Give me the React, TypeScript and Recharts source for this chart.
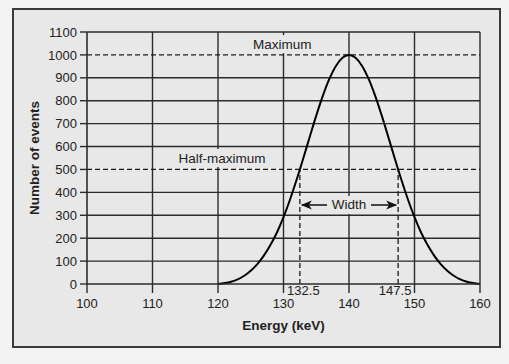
import React from 'react';
import { LineChart, Line, XAxis, YAxis, CartesianGrid, ReferenceLine, ReferenceDot, Label } from 'recharts';

const energy = [120, 121, 122, 123, 124, 125, 126, 127, 128, 129, 130, 131, 132, 133, 134, 135, 136, 137, 138, 139, 140,
  141, 142, 143, 144, 145, 146, 147, 148, 149, 150, 151, 152, 153, 154, 155, 156, 157, 158, 159, 160];
const events = [0, 4, 10, 20, 36, 58, 87, 124, 170, 225, 292, 369, 455, 547, 642, 735, 821, 895, 952, 988, 1000,
  988, 952, 895, 821, 735, 642, 547, 455, 369, 292, 225, 170, 124, 87, 58, 36, 20, 10, 4, 0];

const xTicks = [100, 110, 120, 130, 140, 150, 160];
const yTicks = [0, 100, 200, 300, 400, 500, 600, 700, 800, 900, 1000, 1100];
const gridY = [100, 200, 300, 400, 600, 700, 800, 900, 1100];
const gridX = [110, 120, 130, 140, 150, 160];

const maximum = 1000;
const halfMax = 500;
const fwhmLow = 132.5;
const fwhmHigh = 147.5;
const arrowLevel = 345;
const notes = [
  { x: 129.8, y: 1047, text: 'Maximum', w: 62 },
  { x: 120.6, y: 550, text: 'Half-maximum', w: 92 },
];

const data = energy.map((e, i) => ({ energy: e, events: events[i] }));

const BG = '#e8e8e8';
const INK = '#222';
const GRID = '#2b2b2b';
const FONT = '"Liberation Sans", Arial, Helvetica, sans-serif';

const NoteShape = (p: any) => {
  const { cx, cy, text, w } = p;
  return (
    <g>
      <rect x={cx - w / 2} y={cy - 9} width={w} height={18} fill={BG} />
      <text x={cx} y={cy} textAnchor="middle" dominantBaseline="central" fontSize={13.5} fontFamily={FONT} fill={INK}>
        {text}
      </text>
    </g>
  );
};

const ArrowShape = (p: any) => {
  const { x1, y1, x2, y2 } = p;
  const mid = (x1 + x2) / 2;
  const tw = 44;
  return (
    <g>
      <line x1={x1 + 2} y1={y1} x2={x2 - 2} y2={y2} stroke="#111" strokeWidth={1.5} />
      <polygon points={`${x1 + 1},${y1} ${x1 + 12},${y1 - 4.5} ${x1 + 9},${y1} ${x1 + 12},${y1 + 4.5}`} fill="#111" />
      <polygon points={`${x2 - 1},${y2} ${x2 - 12},${y2 - 4.5} ${x2 - 9},${y2} ${x2 - 12},${y2 + 4.5}`} fill="#111" />
      <rect x={mid - tw / 2} y={y1 - 9} width={tw} height={18} fill={BG} />
      <text x={mid} y={y1} textAnchor="middle" dominantBaseline="central" fontSize={13.5} fontFamily={FONT} fill={INK}>
        Width
      </text>
    </g>
  );
};

const valueLabel = (text: string, dx: number) => (props: any) => {
  const vb = props.viewBox;
  return (
    <text x={vb.x + dx} y={vb.y + vb.height + 11} textAnchor="middle" fontSize={13} fontFamily={FONT} fill={INK}>
      {text}
    </text>
  );
};

export default function App() {
  return (
    <div style={{ position: 'absolute', left: 0, top: 0, width: 509, height: 364, background: '#f3f3f3' }}>
      <div
        style={{
          position: 'absolute',
          left: 12,
          top: 8,
          width: 489,
          height: 340,
          border: '2px solid #3a3a3a',
          boxSizing: 'border-box',
          background: BG,
        }}
      />
      <div style={{ position: 'absolute', left: 0, top: 0 }}>
        <LineChart width={509} height={364} data={data} margin={{ top: 32, right: 29, bottom: 30, left: 0 }}>
          <CartesianGrid
            horizontalValues={gridY}
            verticalValues={gridX}
            stroke={GRID}
            strokeWidth={1.4}
          />
          <XAxis
            dataKey="energy"
            type="number"
            domain={[100, 160]}
            ticks={xTicks}
            height={50}
            tickSize={9}
            tickMargin={6}
            interval={0}
            axisLine={{ stroke: GRID, strokeWidth: 1.6 }}
            tickLine={{ stroke: GRID, strokeWidth: 1.4 }}
            tick={{ fill: INK, fontSize: 13, fontFamily: FONT }}
          >
            <Label
              content={(props: any) => {
                const vb = props.viewBox;
                return (
                  <text x={vb.x + vb.width / 2} y={vb.y + 46} textAnchor="middle" fontSize={13.5} fontWeight="bold" fontFamily={FONT} fill={INK}>
                    Energy (keV)
                  </text>
                );
              }}
            />
          </XAxis>
          <YAxis
            type="number"
            domain={[0, 1100]}
            ticks={yTicks}
            width={87}
            tickSize={7}
            tickMargin={3}
            interval={0}
            axisLine={{ stroke: GRID, strokeWidth: 1.6 }}
            tickLine={{ stroke: GRID, strokeWidth: 1.4 }}
            tick={{ fill: INK, fontSize: 13, fontFamily: FONT }}
          >
            <Label
              content={(props: any) => {
                const vb = props.viewBox;
                const x = vb.x + 34;
                const y = vb.y + vb.height / 2;
                return (
                  <text x={x} y={y} transform={`rotate(-90, ${x}, ${y})`} textAnchor="middle" dominantBaseline="central" fontSize={13.5} fontWeight="bold" fontFamily={FONT} fill={INK}>
                    Number of events
                  </text>
                );
              }}
            />
          </YAxis>
          <ReferenceLine y={maximum} stroke="#1a1a1a" strokeWidth={1.3} strokeDasharray="5 3" />
          <ReferenceLine y={halfMax} stroke="#1a1a1a" strokeWidth={1.3} strokeDasharray="5 3" />
          <ReferenceLine
            segment={[{ x: fwhmLow, y: 0 }, { x: fwhmLow, y: halfMax }]}
            stroke="#1a1a1a"
            strokeWidth={1.3}
            strokeDasharray="5 3"
            label={valueLabel('132.5', 3.5)}
          />
          <ReferenceLine
            segment={[{ x: fwhmHigh, y: 0 }, { x: fwhmHigh, y: halfMax }]}
            stroke="#1a1a1a"
            strokeWidth={1.3}
            strokeDasharray="5 3"
            label={valueLabel('147.5', -3)}
          />
          <ReferenceLine
            segment={[{ x: fwhmLow, y: arrowLevel }, { x: fwhmHigh, y: arrowLevel }]}
            shape={ArrowShape}
          />
          {notes.map((n) => (
            <ReferenceDot
              key={n.text}
              x={n.x}
              y={n.y}
              r={0}
              shape={(p: any) => <NoteShape cx={p.cx} cy={p.cy} text={n.text} w={n.w} />}
            />
          ))}
          <Line
            type="monotone"
            dataKey="events"
            stroke="#000"
            strokeWidth={2}
            dot={false}
            isAnimationActive={false}
          />
        </LineChart>
      </div>
    </div>
  );
}
